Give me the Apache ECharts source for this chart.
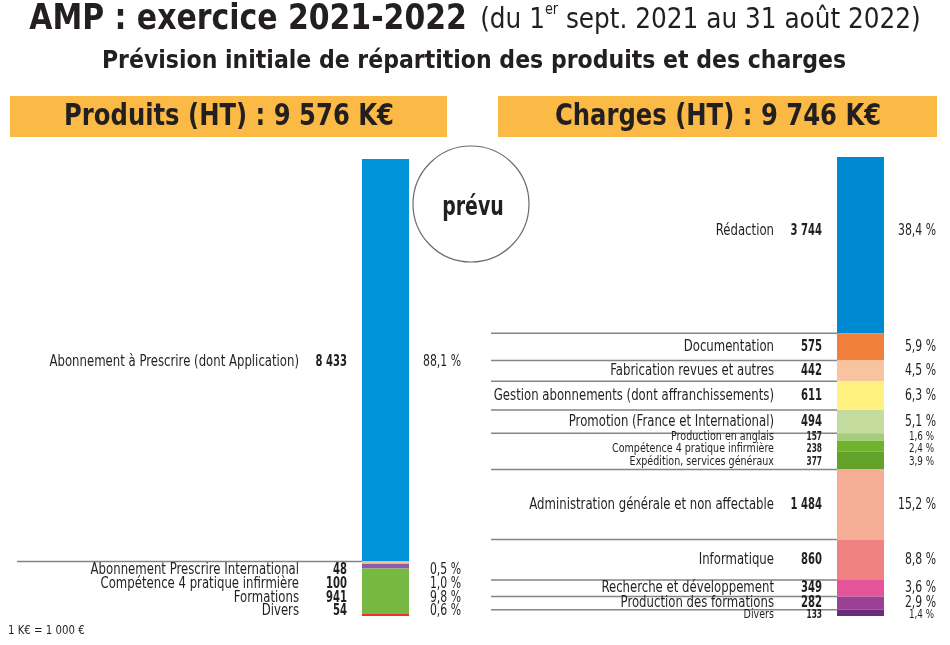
<!DOCTYPE html>
<html>
<head>
<meta charset="utf-8">
<script src="https://cdn.jsdelivr.net/npm/echarts@6/dist/echarts.min.js"></script>
<style>
  html, body { margin: 0; padding: 0; background: #fff; }
  #chart { width: 950px; height: 645px; }
</style>
</head>
<body>
<div id="chart"></div>
<script>
// --- données (K€), du haut vers le bas de chaque barre ---
const produitsNames = [
  'Abonnement à Prescrire (dont Application)',
  'Abonnement Prescrire International',
  'Compétence 4 pratique infirmière',
  'Formations',
  'Divers'
];
const produitsValues = [8433, 48, 100, 941, 54];
const produitsPct = ['88,1 %', '0,5 %', '1,0 %', '9,8 %', '0,6 %'];
const produitsTotal = 9576;

const chargesNames = [
  'Rédaction',
  'Documentation',
  'Fabrication revues et autres',
  'Gestion abonnements (dont affranchissements)',
  'Promotion (France et International)',
  'Production en anglais',
  'Compétence 4 pratique infirmière',
  'Expédition, services généraux',
  'Administration générale et non affectable',
  'Informatique',
  'Recherche et développement',
  'Production des formations',
  'Divers'
];
const chargesValues = [3744, 575, 442, 611, 494, 157, 238, 377, 1484, 860, 349, 282, 133];
const chargesPct = ['38,4 %', '5,9 %', '4,5 %', '6,3 %', '5,1 %', '1,6 %', '2,4 %', '3,9 %', '15,2 %', '8,8 %', '3,6 %', '2,9 %', '1,4 %'];
const chargesTotal = 9746;

const FONT = "'Liberation Sans Narrow', 'DejaVu Sans Condensed', 'Arial Narrow', sans-serif";
const INK = '#231f20';

function fmt(v) {
  return String(v).replace(/\B(?=(\d{3})+(?!\d))/g, ' ');
}

// start/end cumulés pour chaque segment
function segments(values) {
  let acc = 0;
  return values.map(function (v, i) {
    const s = acc;
    acc += v;
    return [s, acc, i];
  });
}

// texte resserré horizontalement (la police d'origine est une condensée)
function txt(text, x, y, align, fs, weight, sx) {
  return {
    type: 'text', x: x, y: y, scaleX: sx,
    style: { text: text, x: 0, y: 0, align: align, verticalAlign: 'middle',
             fontSize: fs, fontWeight: weight, fontFamily: FONT, fill: INK }
  };
}

const sides = [
  {
    names: produitsNames, values: produitsValues, pct: produitsPct, total: produitsTotal,
    colors: ['#0093d9', '#f6c39b', '#8e5ba6', '#77b843', '#e53527'],
    grid: { left: 362, top: 159, width: 47, height: 457 },
    lineX: 17, sep: [1], small: [],
    shift: { 0: 2, 1: 7, 2: 18, 3: 7, 4: -4 }
  },
  {
    names: chargesNames, values: chargesValues, pct: chargesPct, total: chargesTotal,
    colors: ['#0089d3', '#f07f3b', '#f8c39f', '#fff27f', '#c4dd9e', '#a5cd7b', '#71b22c', '#62a12a',
             '#f5ae95', '#ef8280', '#e5539a', '#9b4195', '#6c2c7c'],
    grid: { left: 837, top: 157, width: 47, height: 459 },
    lineX: 491, sep: [1, 2, 3, 4, 5, 8, 9, 10, 11, 12], small: [5, 6, 7, 12],
    shift: { 0: -14, 6: 2, 7: 1, 12: 2 }
  }
];

function makeRender(side) {
  return function (params, api) {
    const i = api.value(2);
    const a = api.coord([0, api.value(0)]);
    const b = api.coord([1, api.value(1)]);
    const x0 = a[0], x1 = b[0], y0 = a[1], y1 = b[1];
    const small = side.small.indexOf(i) >= 0;
    const fs = small ? 12.5 : 15.5;
    const ty = (y0 + y1) / 2 + (side.shift[i] || 0);
    const children = [];
    if (side.sep.indexOf(i) >= 0) {
      children.push({
        type: 'line',
        shape: { x1: side.lineX, y1: y0, x2: x0, y2: y0 },
        style: { stroke: '#858585', lineWidth: 1.5 }
      });
    }
    children.push({
      type: 'rect',
      shape: { x: x0, y: y0, width: x1 - x0, height: y1 - y0 },
      style: { fill: side.colors[i] }
    });
    children.push(txt(side.names[i], x0 - 63, ty, 'right', fs, 'normal', small ? 0.85 : 0.84));
    children.push(txt(fmt(side.values[i]), x0 - 15, ty, 'right', fs, 'bold', small ? 0.66 : 0.72));
    children.push(txt(side.pct[i], x1 + (small ? 50 : 52), ty, 'right', fs, 'normal', 0.78));
    return { type: 'group', children: children };
  };
}

const chart = echarts.init(document.getElementById('chart'));

const option = {
  backgroundColor: '#ffffff',
  animation: false,
  grid: sides.map(function (s) { return s.grid; }),
  xAxis: sides.map(function (s, k) {
    return { type: 'value', gridIndex: k, min: 0, max: 1, show: false };
  }),
  yAxis: sides.map(function (s, k) {
    return { type: 'value', gridIndex: k, min: 0, max: s.total, inverse: true, show: false };
  }),
  series: sides.map(function (s, k) {
    return {
      type: 'custom',
      xAxisIndex: k,
      yAxisIndex: k,
      renderItem: makeRender(s),
      encode: { y: [0, 1] },
      data: segments(s.values)
    };
  }),
  graphic: [
    {
      type: 'text', x: 475, y: 20, scaleX: 0.95,
      style: {
        text: '{b|AMP : exercice 2021-2022}{gap|}{r|(du 1}{sup|er}{r| sept. 2021 au 31 août 2022)}',
        align: 'center', verticalAlign: 'middle',
        rich: {
          b: { fontSize: 35, fontWeight: 'bold', fontFamily: FONT, fill: INK },
          gap: { width: 14 },
          r: { fontSize: 29, fontFamily: FONT, fill: INK },
          sup: { fontSize: 15, fontFamily: FONT, fill: INK, verticalAlign: 'top' }
        }
      }
    },
    {
      type: 'text', x: 474, y: 62, scaleX: 1.0,
      style: { text: 'Prévision initiale de répartition des produits et des charges',
               align: 'center', verticalAlign: 'middle',
               fontSize: 24.5, fontWeight: 'bold', fontFamily: FONT, fill: INK }
    },
    { type: 'rect', shape: { x: 10, y: 96, width: 437, height: 41 }, style: { fill: '#fbba45' } },
    { type: 'rect', shape: { x: 498, y: 96, width: 439, height: 41 }, style: { fill: '#fbba45' } },
    {
      type: 'text', x: 229, y: 117, scaleX: 0.9,
      style: { text: 'Produits (HT) : 9 576 K€', align: 'center', verticalAlign: 'middle',
               fontSize: 30, fontWeight: 'bold', fontFamily: FONT, fill: INK }
    },
    {
      type: 'text', x: 718, y: 117, scaleX: 0.9,
      style: { text: 'Charges (HT) : 9 746 K€', align: 'center', verticalAlign: 'middle',
               fontSize: 30, fontWeight: 'bold', fontFamily: FONT, fill: INK }
    },
    {
      type: 'circle', shape: { cx: 471, cy: 204, r: 58 },
      style: { fill: '#ffffff', stroke: '#6f6a68', lineWidth: 1.2 }
    },
    {
      type: 'text', x: 473, y: 208, scaleX: 0.78,
      style: { text: 'prévu', align: 'center', verticalAlign: 'middle',
               fontSize: 27, fontWeight: 'bold', fontFamily: FONT, fill: INK }
    },
    {
      type: 'text', x: 8, y: 631, scaleX: 0.87,
      style: { text: '1 K€ = 1 000 €', align: 'left', verticalAlign: 'middle',
               fontSize: 13, fontFamily: FONT, fill: INK }
    }
  ]
};

chart.setOption(option);
window.addEventListener('resize', function () { chart.resize(); });
</script>
</body>
</html>
